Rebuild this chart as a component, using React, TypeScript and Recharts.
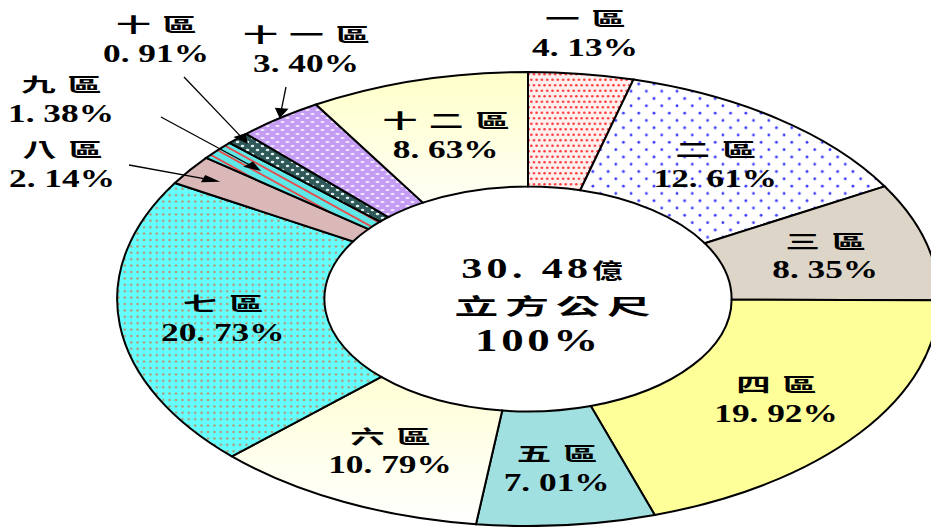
import React from 'react'
import { PieChart, Pie, Cell, Label } from 'recharts'

const districts = ['一區', '二區', '三區', '四區', '五區', '六區', '七區', '八區', '九區', '十區', '十一區', '十二區']
const shares = [4.13, 12.61, 8.35, 19.92, 7.01, 10.79, 20.73, 2.14, 1.38, 0.91, 3.4, 8.63]
const totalAmount = '30. 48'
const totalUnit = '億'
const totalUnit2 = '立方公尺'
const totalShare = '100%'

const data = districts.map((name, i) => ({ name, value: shares[i] }))

const fills = [
  'url(#p1)', 'url(#p2)', '#ddd6c8', '#ffff99', '#a0e0e0', 'url(#g6)',
  'url(#p7)', '#dbb8b8', 'url(#p9)', 'url(#p10)', 'url(#p11)', 'url(#g12)',
]

// the whole picture is stretched sideways
const S = 1.81
const CX = 528 / S
const CY = 299
const OUTER = 227
const INNER = 112.5
const RAD = Math.PI / 180

const serif = "'Liberation Serif', 'Noto Sans CJK TC', serif"
const cjk = "'Noto Sans CJK TC', sans-serif"

// labels that sit outside the ring: offset from centre in screen px, arrow tail, arrow tip (share of outer radius)
const outside: Record<number, { dx: number; dy: number; tail?: [number, number]; tip?: number }> = {
  0: { dx: 57, dy: -266 },
  7: { dx: -466, dy: -135, tail: [-399, -134], tip: 0.91 },
  8: { dx: -467, dy: -200, tail: [-367, -182], tip: 0.86 },
  9: { dx: -372, dy: -260, tail: [-344, -222], tip: 0.965 },
  10: { dx: -222, dy: -250, tail: [-242, -212], tip: 1.0 },
}

const fmt = (v: number) => v.toFixed(2).replace('.', '. ') + '%'

const renderLabel = (p: any) => {
  const { cx, cy, midAngle, innerRadius, outerRadius, index } = p
  const o = outside[index]
  let x: number
  let y: number
  if (o) {
    x = cx + o.dx / S
    y = cy + o.dy
  } else {
    const r = (innerRadius + outerRadius) / 2
    x = cx + r * Math.cos(-midAngle * RAD)
    y = cy + r * Math.sin(-midAngle * RAD)
  }
  let arrow = null
  if (o && o.tail && o.tip) {
    const rt = o.tip * outerRadius
    const tx = cx + rt * Math.cos(-midAngle * RAD)
    const ty = cy + rt * Math.sin(-midAngle * RAD)
    const ax = cx + o.tail[0] / S
    const ay = cy + o.tail[1]
    const len = Math.hypot(tx - ax, ty - ay)
    const ux = (tx - ax) / len
    const uy = (ty - ay) / len
    const L = 10
    const W = 3.8
    const bx = tx - ux * L
    const by = ty - uy * L
    const head = `${tx},${ty} ${bx - uy * W},${by + ux * W} ${bx + uy * W},${by - ux * W}`
    arrow = (
      <g>
        <line x1={ax} y1={ay} x2={bx + ux * 2} y2={by + uy * 2} stroke="#000" strokeWidth={1.3} vectorEffect="non-scaling-stroke" />
        <polygon points={head} fill="#000" />
      </g>
    )
  }
  return (
    <g key={`lab-${index}`}>
      {arrow}
      <text
        transform={`translate(${x} ${y - 7})`}
        textAnchor="middle"
        dx={3.5}
        fontFamily={cjk}
        fontWeight="bold"
        fontSize={19}
        letterSpacing={6.5}
        fill="#000"
      >
        {districts[index]}
      </text>
      <text
        transform={`translate(${x} ${y + 22.5}) scale(0.78 1)`}
        textAnchor="middle"
        fontFamily={serif}
        fontWeight="bold"
        fontSize={25}
        fill="#000"
      >
        {fmt(shares[index])}
      </text>
    </g>
  )
}

const renderCenter = (p: any) => {
  const vb = p && p.viewBox
  const cx = vb && typeof vb.cx === 'number' ? vb.cx : CX
  const cy = vb && typeof vb.cy === 'number' ? vb.cy : CY
  return (
    <g>
      <text transform={`translate(${cx + 14 / S} ${cy - 21}) scale(0.8 1)`} textAnchor="middle" dx={1.5}
        fontFamily={serif} fontWeight="bold" fontSize={29} letterSpacing={3} fill="#000">
        {totalAmount}
        <tspan fontFamily={cjk} fontSize={21}>{totalUnit}</tspan>
      </text>
      <text transform={`translate(${cx + 25 / S} ${cy + 15}) scale(1.1 1)`} textAnchor="middle" dx={1.5}
        fontFamily={cjk} fontWeight="bold" fontSize={22} letterSpacing={3.5} fill="#000">
        {totalUnit2}
      </text>
      <text transform={`translate(${cx + 9 / S} ${cy + 52}) scale(0.8 1)`} textAnchor="middle" dx={1}
        fontFamily={serif} fontWeight="bold" fontSize={31} letterSpacing={2.5} fill="#000">
        {totalShare}
      </text>
    </g>
  )
}

const Patterns = () => (
  <svg width={0} height={0} style={{ position: 'absolute' }}>
    <defs>
      <pattern id="p1" patternUnits="userSpaceOnUse" width={5.3 / S} height={11}>
        <rect width={5.3 / S} height={11} fill="#fff0f0" />
        <ellipse cx={1.3 / S} cy={2.7} rx={1.3 / S} ry={1.3} fill="#ff3c3c" />
        <ellipse cx={3.95 / S} cy={8.2} rx={1.3 / S} ry={1.3} fill="#ff3c3c" />
      </pattern>
      <pattern id="p2" patternUnits="userSpaceOnUse" width={15.3 / S} height={14.6}>
        <rect width={15.3 / S} height={14.6} fill="#fff" />
        <ellipse cx={3.8 / S} cy={3.6} rx={1.4 / S} ry={1.4} fill="#3a3aff" />
        <ellipse cx={11.45 / S} cy={10.9} rx={1.4 / S} ry={1.4} fill="#3a3aff" />
      </pattern>
      <pattern id="p7" patternUnits="userSpaceOnUse" width={6.4 / S} height={6.4}>
        <rect width={6.4 / S} height={6.4} fill="#66ffff" />
        <ellipse cx={3.2 / S} cy={3.2} rx={1.2 / S} ry={1.2} fill="#c08a5a" />
      </pattern>
      <pattern id="p9" patternUnits="userSpaceOnUse" width={6} height={6} patternTransform="rotate(45)">
        <rect width={6} height={6} fill="#5ee8e8" />
        <rect y={2.5} width={6} height={1.3} fill="#ff3030" />
      </pattern>
      <pattern id="p10" patternUnits="userSpaceOnUse" width={10 / S} height={8}>
        <rect width={10 / S} height={8} fill="#2f5858" />
        <ellipse cx={2.5 / S} cy={2} rx={1.8 / S} ry={1.2} fill="#dfeeee" />
        <ellipse cx={7.5 / S} cy={6} rx={1.8 / S} ry={1.2} fill="#dfeeee" />
      </pattern>
      <pattern id="p11" patternUnits="userSpaceOnUse" width={10 / S} height={8}>
        <rect width={10 / S} height={8} fill="#c49cf4" />
        <ellipse cx={2.5 / S} cy={2} rx={2.2 / S} ry={1.1} fill="#f4eaff" />
        <ellipse cx={7.5 / S} cy={6} rx={2.2 / S} ry={1.1} fill="#f4eaff" />
      </pattern>
      <linearGradient id="g6" x1="0" y1="0" x2="0" y2="1">
        <stop offset="0" stopColor="#ffffd6" />
        <stop offset="1" stopColor="#ffffff" />
      </linearGradient>
      <linearGradient id="g12" x1="0" y1="0" x2="0" y2="1">
        <stop offset="0" stopColor="#ffffc8" />
        <stop offset="1" stopColor="#fffff6" />
      </linearGradient>
    </defs>
  </svg>
)

export default function App() {
  return (
    <div style={{ width: 931, height: 527, position: 'relative', background: '#fff', overflow: 'hidden' }}>
      <style>{`body{margin:0} .recharts-surface > g{transform:scaleX(${S})} .recharts-sector{vector-effect:non-scaling-stroke}`}</style>
      <Patterns />
      <PieChart width={931} height={527} margin={{ top: 0, right: 0, bottom: 0, left: 0 }}>
        <Pie
          data={data}
          dataKey="value"
          nameKey="name"
          cx={CX}
          cy={CY}
          innerRadius={INNER}
          outerRadius={OUTER}
          startAngle={90}
          endAngle={-270}
          stroke="#000"
          strokeWidth={2}
          label={renderLabel}
          labelLine={false}
          isAnimationActive={false}
        >
          {data.map((d, i) => (
            <Cell key={d.name} fill={fills[i]} />
          ))}
          <Label position="center" content={renderCenter} />
        </Pie>
      </PieChart>
    </div>
  )
}
